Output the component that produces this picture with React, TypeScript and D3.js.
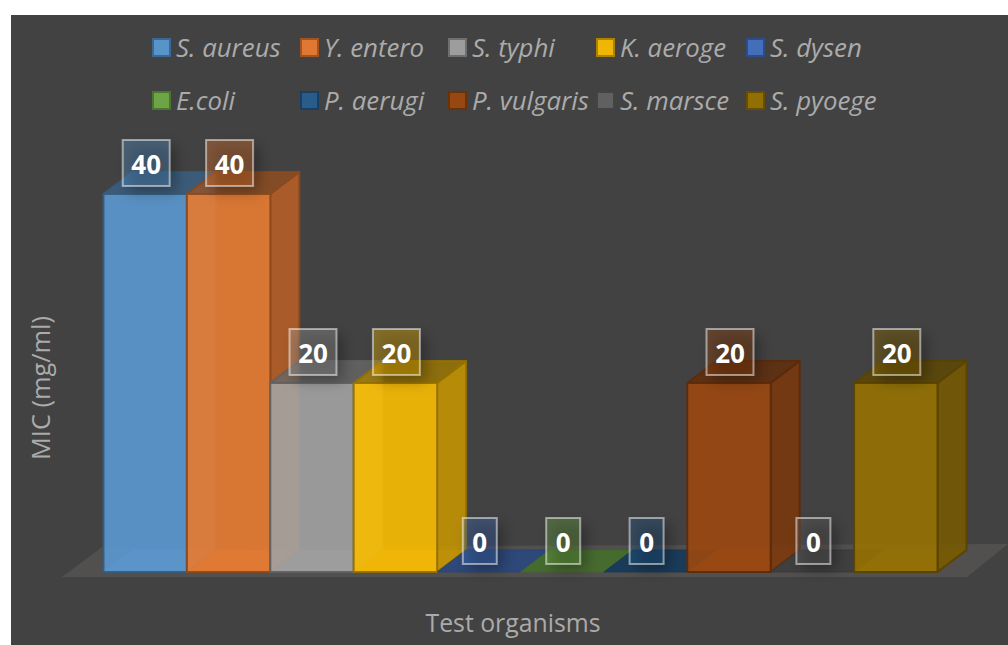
import * as d3 from "d3";

/* ------------------------------------------------------------------ */
/*  Data                                                              */
/* ------------------------------------------------------------------ */

const organisms = [
  "S. aureus",
  "Y. entero",
  "S. typhi",
  "K. aeroge",
  "S. dysen",
  "E.coli",
  "P. aerugi",
  "P. vulgaris",
  "S. marsce",
  "S. pyoege",
];
const micValues = [40, 40, 20, 20, 0, 0, 0, 20, 0, 20];
const barColors = [
  "#5b9bd5",
  "#ed7d31",
  "#a5a5a5",
  "#ffc000",
  "#4472c4",
  "#70ad47",
  "#255e91",
  "#9e480e",
  "#636363",
  "#997300",
];
const legendSwatchX = [153, 301, 449, 597, 747];
const legendRowY = [48, 101];

const WIDTH = 1008;
const HEIGHT = 645;
const DEPTH_X = 29;
const DEPTH_Y = 22;
const LABEL_FONT = "'Open Sans', sans-serif";
const TEXT_COLOR = "#ababab";

/* ------------------------------------------------------------------ */
/*  Component                                                         */
/* ------------------------------------------------------------------ */

const poly = (pts: [number, number][]) => pts.map((p) => p.join(",")).join(" ");

export default function App() {
  const x = d3.scaleBand<string>().domain(organisms).range([103.5, 937.5]).padding(0);
  const y = d3.scaleLinear().domain([0, 40]).range([572, 194]);
  const base = y(0);
  const bw = x.bandwidth();

  return (
    <svg
      width={WIDTH}
      height={HEIGHT}
      viewBox={`0 0 ${WIDTH} ${HEIGHT}`}
      style={{ position: "fixed", left: 0, top: 0, background: "#fff" }}
    >
      <defs>
        <filter id="labelShadow" x="-60%" y="-60%" width="220%" height="220%">
          <feGaussianBlur stdDeviation="7" />
        </filter>
      </defs>

      <rect x={11} y={15} width={WIDTH - 11} height={HEIGHT - 15} fill="#424242" />

      {/* Legend */}
      {organisms.map((name, i) => {
        const sx = legendSwatchX[i % 5];
        const cy = legendRowY[Math.floor(i / 5)];
        const c = barColors[i];
        return (
          <g key={name}>
            <rect
              x={sx}
              y={cy - 9}
              width={17}
              height={17}
              fill={c}
              fillOpacity={0.92}
              stroke={d3.color(c)!.darker(1.1).formatHex()}
              strokeWidth={2}
            />
            <text
              x={sx + 23}
              y={cy - 1}
              dominantBaseline="central"
              fontFamily={LABEL_FONT}
              fontStyle="italic"
              fontSize={25.8}
              fill={TEXT_COLOR}
            >
              {name}
            </text>
          </g>
        );
      })}

      {/* Floor */}
      <polygon
        points={poly([
          [62, base + 5],
          [967, base + 5],
          [1008, base - 28],
          [102, base - 25],
        ])}
        fill="#524f4f"
      />

      {/* Bars, back to front */}
      {organisms.map((name, i) => {
        const x0 = x(name)!;
        const x1 = x0 + bw;
        const top = y(micValues[i]);
        const c = barColors[i];
        const edge = d3.color(c)!.darker(1.5).formatHex();
        const side = d3.color(c)!.darker(0.7).formatHex();
        const lid = d3.color(c)!.darker(1.3).formatHex();
        const flat = micValues[i] === 0;
        return (
          <g key={name} stroke={edge} strokeWidth={2} strokeLinejoin="round" strokeOpacity={0.9}>
            {/* floor of the box */}
            <polygon
              points={poly([
                [x0, base],
                [x1, base],
                [x1 + DEPTH_X, base - DEPTH_Y],
                [x0 + DEPTH_X, base - DEPTH_Y],
              ])}
              fill={flat ? lid : c}
              fillOpacity={flat ? 0.95 : 0.25}
              stroke={flat ? edge : "none"}
              strokeWidth={flat ? 1 : 0}
            />
            {!flat && (
              <>
                <polygon
                  points={poly([
                    [x1, top],
                    [x1 + DEPTH_X, top - DEPTH_Y],
                    [x1 + DEPTH_X, base - DEPTH_Y],
                    [x1, base],
                  ])}
                  fill={side}
                  fillOpacity={0.87}
                />
                <polygon
                  points={poly([
                    [x0, top],
                    [x1, top],
                    [x1 + DEPTH_X, top - DEPTH_Y],
                    [x0 + DEPTH_X, top - DEPTH_Y],
                  ])}
                  fill={lid}
                  fillOpacity={0.8}
                />
                <rect
                  x={x0}
                  y={top}
                  width={bw}
                  height={base - top}
                  fill={c}
                  fillOpacity={0.88}
                />
              </>
            )}
          </g>
        );
      })}

      {/* Data labels */}
      {organisms.map((name, i) => {
        const cx = x(name)! + bw / 2 + 1;
        const top = y(micValues[i]) - 54;
        const w = micValues[i] === 0 ? 34 : 47;
        return (
          <g key={name}>
            <rect
              x={cx - w / 2 + 6}
              y={top + 6}
              width={w}
              height={46}
              fill="#000"
              fillOpacity={0.3}
              filter="url(#labelShadow)"
            />
            <rect
              x={cx - w / 2}
              y={top}
              width={w}
              height={46}
              fill={barColors[i]}
              fillOpacity={0.35}
              stroke="#fff"
              strokeOpacity={0.5}
              strokeWidth={2}
            />
            <text
              x={cx}
              y={top + 24}
              textAnchor="middle"
              dominantBaseline="central"
              fontFamily={LABEL_FONT}
              fontWeight={700}
              fontSize={26}
              fill="#fff"
            >
              {micValues[i]}
            </text>
          </g>
        );
      })}

      {/* Axis titles */}
      <text
        x={513}
        y={622}
        textAnchor="middle"
        dominantBaseline="central"
        fontFamily={LABEL_FONT}
        fontSize={24.8}
        fill={TEXT_COLOR}
      >
        Test organisms
      </text>
      <text
        transform="translate(40,388) rotate(-90)"
        textAnchor="middle"
        dominantBaseline="central"
        fontFamily={LABEL_FONT}
        fontSize={25.4}
        fill={TEXT_COLOR}
      >
        MIC (mg/ml)
      </text>
    </svg>
  );
}
